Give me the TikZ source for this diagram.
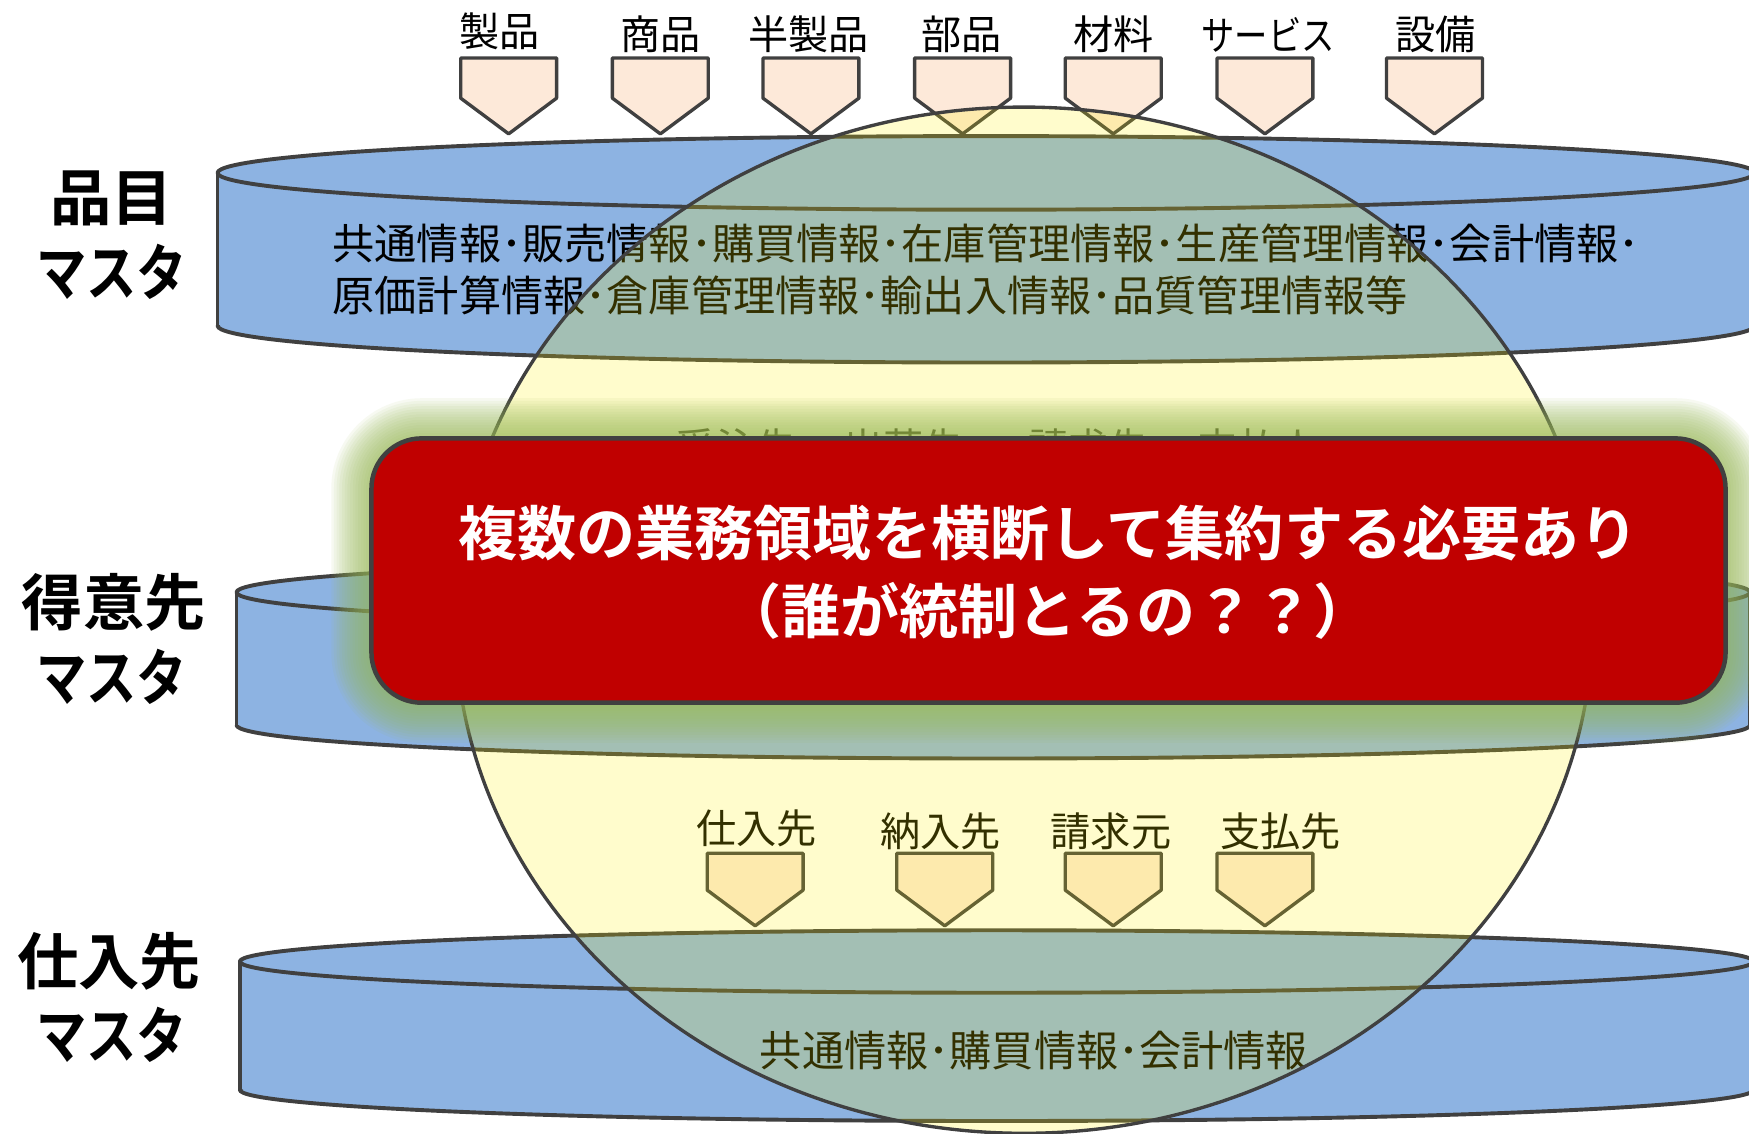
\documentclass[tikz,border=0pt]{standalone}
\usepackage{fontspec}
\newfontfamily\jp{Noto Sans CJK JP}[BoldFont={Noto Sans CJK JP Bold}]
\definecolor{cylblue}{RGB}{141,179,226}
\definecolor{edgegray}{RGB}{64,64,64}
\definecolor{peach}{RGB}{253,233,217}
\definecolor{boxred}{RGB}{192,0,0}
\definecolor{glowgreen}{RGB}{155,187,89}
\newcommand\drawcyl[6]{%
  \pgfmathsetmacro\cyx{(#2+#3)/2}%
  \pgfmathsetmacro\cyrx{(#3-#2)/2}%
  \fill[cylblue] (#2,#4) rectangle (#3,#5);
  \fill[cylblue] (\cyx,#5) ellipse[x radius=\cyrx, y radius=#6];
  \fill[cylblue] (\cyx,#4) ellipse[x radius=\cyrx, y radius=#6];
  \begin{scope}
    \clip (#2-10,#5) rectangle (#3+10,#5+#6+10);
    \draw[cyledge] (\cyx,#5) ellipse[x radius=\cyrx, y radius=#6];
  \end{scope}
  \draw[cyledge] (#2,#4) -- (#2,#5) (#3,#4) -- (#3,#5);
  \draw[cyledge] (\cyx,#4) ellipse[x radius=\cyrx, y radius=#6];
  \coordinate (#1) at (\cyx,#4);
}
\newcommand\pentarrow[4]{%
  \draw[arrowshape] (#1-43,#2) -- (#1+43,#2) -- (#1+43,#3) -- (#1,#4) -- (#1-43,#3) -- cycle;
}
\begin{document}
\begin{tikzpicture}[x=1pt,y=-1pt,line join=round,
  cyledge/.style={draw=edgegray,line width=3.5pt},
  arrowshape/.style={fill=peach,draw=edgegray,line width=3pt},
  lbl/.style={font=\jp\fontsize{36}{40}\selectfont,inner sep=0pt},
  cyltxt/.style={font=\jp\fontsize{37.8}{42}\selectfont,inner sep=0pt},
  mastertitle/.style={font=\jp\bfseries\fontsize{55}{60}\selectfont,inner sep=0pt},
  boxtxt/.style={font=\jp\bfseries\fontsize{53}{60}\selectfont,text=white,inner sep=0pt}]
\clip (0,0) rectangle (1568,1016);
\fill[white] (0,0) rectangle (1568,1016);

% cylinders
\drawcyl{cylA}{195}{1573}{155}{292}{33}
\drawcyl{cylB}{212}{1569}{531}{650}{30}
\drawcyl{cylC}{215}{1572}{862}{977}{28}

% cylinder texts
\node[cyltxt,anchor=west] (tA1) at (298,218) {共通情報･販売情報･購買情報･在庫管理情報･生産管理情報･会計情報･};
\node[cyltxt,anchor=west] (tA2) at (298,265) {原価計算情報･倉庫管理情報･輸出入情報･品質管理情報等};
\node[cyltxt] (tC1) at (927,942) {共通情報･購買情報･会計情報};

% left titles
\node[mastertitle] (mA1) at (100,178) {品目};
\node[mastertitle] (mA2) at (100,244) {\scalebox{0.82}[1]{マスタ}};
\node[mastertitle] (mB1) at (102,540) {得意先};
\node[mastertitle] (mB2) at (100,607) {\scalebox{0.82}[1]{マスタ}};
\node[mastertitle] (mC1) at (98,862) {仕入先};
\node[mastertitle] (mC2) at (100,928) {\scalebox{0.82}[1]{マスタ}};

% top arrows
\foreach \cx in {456,592,727,863,998,1134,1286} {\pentarrow{\cx}{52}{88}{120}}
\node[lbl] (l1) at (448,28) {製品};
\node[lbl] (l2) at (592,31) {商品};
\node[lbl] (l3) at (725,31) {半製品};
\node[lbl] (l4) at (862,31) {部品};
\node[lbl] (l5) at (998,31) {材料};
\node[lbl] (l6) at (1137,31) {\scalebox{0.83}[1]{サービス}};
\node[lbl] (l7) at (1287,31) {設備};

% hidden row (behind the box)
\node[lbl] (h1) at (660,401) {受注先};
\node[lbl] (h2) at (810,401) {出荷先};
\node[lbl] (h3) at (976,401) {請求先};
\node[lbl] (h4) at (1128,401) {支払人};

% bottom arrows
\foreach \cx in {677,847,998,1134} {\pentarrow{\cx}{765}{798}{830}}
\node[lbl] (b1) at (678,743) {仕入先};
\node[lbl] (b2) at (843,745) {納入先};
\node[lbl] (b3) at (996,745) {請求元};
\node[lbl] (b4) at (1148,745) {支払先};

% translucent circle
\draw[fill=yellow,fill opacity=0.2,draw=edgegray,line width=3pt] (918,556) ellipse[x radius=510, y radius=460];

% glow
\foreach \i in {1,...,15} {
  \pgfmathsetmacro\gw{\i*2.4}
  \pgfmathsetmacro\rr{45+\gw}
  \fill[glowgreen,opacity=0.08,rounded corners=\rr pt] (333-\gw,393-\gw) rectangle (1547+\gw,630+\gw);
}
% red box
\node[draw=edgegray,line width=4pt,fill=boxred,rounded corners=45pt,minimum width=1214pt,minimum height=237pt,inner sep=0pt] (box) at (940,511.5) {};
\node[boxtxt] (bt1) at (940,478) {複数の業務領域を横断して集約する必要あり};
\node[boxtxt] (bt2) at (939,548) {（誰が統制とるの？？）};
\end{tikzpicture}
\end{document}
